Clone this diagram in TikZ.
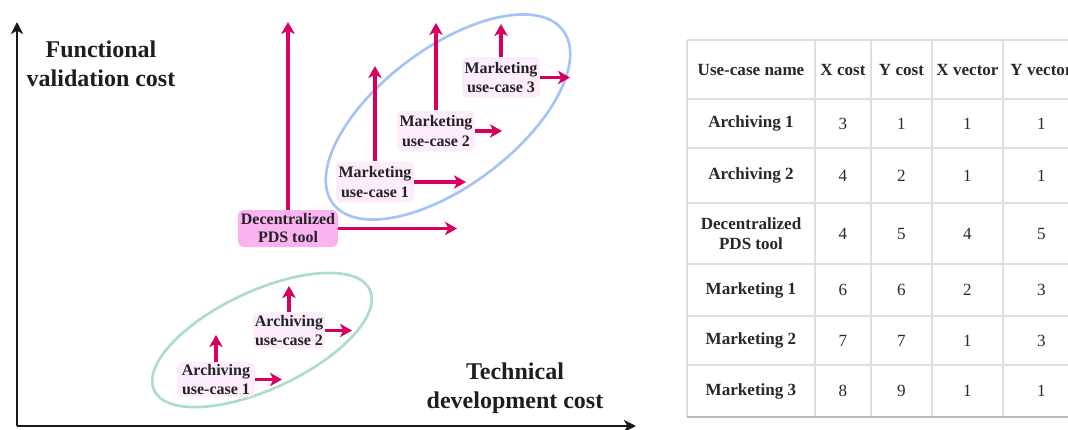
\documentclass[tikz,border=0pt]{standalone}
\usepackage{fontspec}
\setmainfont{Liberation Serif}
\usetikzlibrary{arrows.meta}
\definecolor{arrcol}{RGB}{215,0,95}
\definecolor{axiscol}{RGB}{25,25,25}
\definecolor{labcol}{RGB}{30,30,30}
\definecolor{uclight}{RGB}{253,236,251}
\definecolor{decfill}{RGB}{250,178,240}
\definecolor{ucText}{RGB}{35,35,35}
\definecolor{blueell}{RGB}{166,195,247}
\definecolor{greenell}{RGB}{172,222,196}
\definecolor{gridcol}{RGB}{222,222,222}
\definecolor{tabText}{RGB}{40,40,40}
\tikzset{
  arr/.style={draw=arrcol, line width=2.3pt, -{Stealth[length=9pt,width=10pt,inset=2.5pt]}},
  axisline/.style={draw=axiscol, line width=1.7pt, -{Stealth[length=9pt,width=9pt,inset=2.5pt]}},
  axlabel/.style={font=\bfseries\fontsize{18}{21.5}\selectfont, align=center, text=labcol, inner sep=0pt},
  uc/.style={rectangle, rounded corners=4pt, fill=uclight, align=center, text=ucText,
    font=\bfseries\fontsize{12}{14.5}\selectfont, inner sep=1pt},
  dec/.style={uc, fill=decfill, font=\bfseries\fontsize{12}{13.5}\selectfont},
  ellline/.style={line width=2pt},
  gridline/.style={draw=gridcol, line width=0.8pt},
  th/.style={font=\bfseries\fontsize{12.8}{15}\selectfont, align=center, text=tabText, inner sep=0pt},
  td/.style={font=\fontsize{12.8}{15}\selectfont, align=center, text=tabText, inner sep=0pt},
}
\begin{document}
\begin{tikzpicture}[x=0.75pt,y=-0.75pt]
\useasboundingbox (0,0) rectangle (1068,429);
\clip (0,0) rectangle (1068,429);

% ellipses
\draw[ellline, draw=blueell, shift={(448,117)}, rotate=37] (0,0) ellipse [x radius=108pt, y radius=51.5pt];
\draw[ellline, draw=greenell, shift={(262,340)}, rotate=25] (0,0) ellipse [x radius=89.25pt, y radius=36.75pt];

% axes
\coordinate (O) at (17,426);
\coordinate (ytip) at (17,22);
\coordinate (xtip) at (636,426);
\draw[axisline] (O) -- (ytip);
\draw[axisline] (O) -- (xtip);
\node[axlabel] (ylab) at (101,64) {Functional\\validation cost};
\node[axlabel] (xlab) at (515,388) {Technical\\development cost};

% use-case nodes
\node[dec, minimum width=75pt, minimum height=27.75pt] (dec) at (288,228.5) {Decentralized\\PDS tool};
\node[uc, minimum width=58.5pt, minimum height=30.75pt] (m1) at (375,182) {Marketing\\use-case 1};
\node[uc, minimum width=58.5pt, minimum height=30.75pt] (m2) at (436,131) {Marketing\\use-case 2};
\node[uc, minimum width=58.5pt, minimum height=30.75pt] (m3) at (501,77.5) {Marketing\\use-case 3};
\node[uc, minimum width=58.5pt, minimum height=26.25pt] (a1) at (216,379.5) {Archiving\\use-case 1};
\node[uc, minimum width=54pt, minimum height=27.75pt] (a2) at (289,330.5) {Archiving\\use-case 2};

% vector end points
\coordinate (decU) at (288,22);
\coordinate (decR) at (457,228.5);
\coordinate (m1U) at (375,66);
\coordinate (m1R) at (466,182);
\coordinate (m2U) at (436,23);
\coordinate (m2R) at (502,131);
\coordinate (m3U) at (501,24);
\coordinate (m3R) at (570,77.5);
\coordinate (a1U) at (216,335);
\coordinate (a1R) at (282,379.5);
\coordinate (a2U) at (289,286);
\coordinate (a2R) at (352,330.5);

\foreach \n in {dec,m1,m2,m3,a1,a2}{
  \draw[arr] (\n.north) -- (\n U);
  \draw[arr] (\n.east) -- (\n R);
}

% table grid
\foreach \xx in {687,815,871,932,1003}{
  \draw[gridline] (\xx,40) -- (\xx,417);
}
\foreach \yy in {40,99,148,203,264,316,365}{
  \draw[gridline] (687,\yy) -- (1080,\yy);
}
\draw[draw=gridcol!85!black, line width=0.8pt] (687,417) -- (1080,417);

% header
\node[th] (h1) at (751,69.5) {Use-case name};
\node[th] (h2) at (843,69.5) {X cost};
\node[th] (h3) at (901.5,69.5) {Y cost};
\node[th] (h4) at (967.5,69.5) {X vector};
\node[th] (h5) at (1041.5,69.5) {Y vector};

% rows
\foreach \y/\name/\a/\b/\c/\d [count=\i] in {
  123.5/Archiving 1/3/1/1/1,
  175.5/Archiving 2/4/2/1/1,
  233.5/{Decentralized\\PDS tool}/4/5/4/5,
  290/Marketing 1/6/6/2/3,
  340.5/Marketing 2/7/7/1/3,
  391/Marketing 3/8/9/1/1}{
  \node[th] (r\i c1) at (751,\y) {\name};
  \node[td] (r\i c2) at (843,\y) {\a};
  \node[td] (r\i c3) at (901.5,\y) {\b};
  \node[td] (r\i c4) at (967.5,\y) {\c};
  \node[td] (r\i c5) at (1041.5,\y) {\d};
}
\end{tikzpicture}
\end{document}
